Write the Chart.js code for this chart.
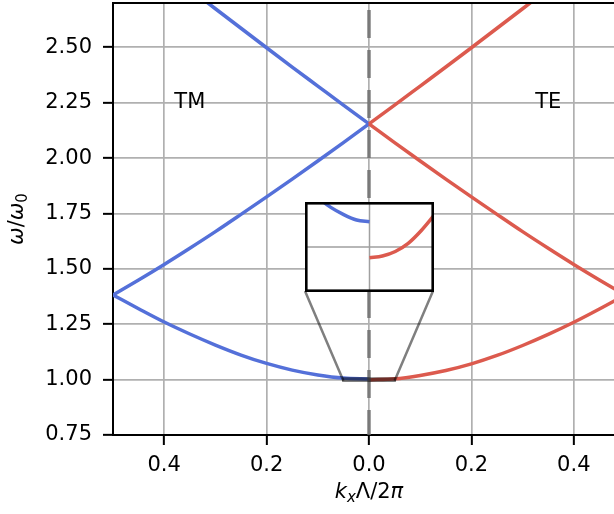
<!DOCTYPE html>
<html>
<head>
<meta charset="utf-8">
<script src="https://cdn.jsdelivr.net/npm/chart.js@4.4.1/dist/chart.umd.min.js"></script>
<style>
  html, body { margin: 0; padding: 0; background: #fff; overflow: hidden; }
  #wrap { position: relative; width: 640px; height: 514px; }
  #bandChart { position: absolute; left: 0; top: 0; }
  #insetChart { position: absolute; background: #fff; }
</style>
</head>
<body>
<div id="wrap">
  <canvas id="bandChart" width="640" height="514"></canvas>
  <canvas id="insetChart"></canvas>
</div>
<script>
// |k_x| Λ/2π samples; TM is plotted on the negative side, TE on the positive side
const K_STEPS = [0, 0.05, 0.10, 0.15, 0.20, 0.25, 0.30, 0.35, 0.40, 0.45, 0.50];
const TM_BAND1 = [1.0028, 1.0068, 1.021, 1.043, 1.073, 1.111, 1.156, 1.206, 1.260, 1.320, 1.382];
const TE_BAND1 = [0.9988, 1.0035, 1.019, 1.041, 1.071, 1.109, 1.154, 1.204, 1.259, 1.319, 1.382];
// second band is the same for both polarisations
const BAND2 = [2.154, 2.070, 1.987, 1.905, 1.825, 1.746, 1.668, 1.593, 1.520, 1.450, 1.382];

const K_STEPS_UPPER = [0, 0.05, 0.10, 0.15, 0.20, 0.25, 0.30, 0.35];
const BAND3 = [2.154, 2.239, 2.325, 2.411, 2.498, 2.586, 2.674, 2.763];

// close-up of the band edge around k = 0
const INSET_K = [0, 0.01, 0.02, 0.03, 0.04, 0.05];
const INSET_TM = [1.0028, 1.0030, 1.0036, 1.0044, 1.0055, 1.0068];
const INSET_TE = [0.9988, 0.9990, 0.9995, 1.0004, 1.0018, 1.0035];

const X_TICKS = [-0.4, -0.2, 0, 0.2, 0.4];
const Y_TICKS = [0.75, 1.00, 1.25, 1.50, 1.75, 2.00, 2.25, 2.50];

const BLUE = '#5470d9';
const RED = '#dc5a4e';
const FONT = '"DejaVu Sans", sans-serif';

// zoomed region and where the close-up sits (data units)
const ZOOM = { kMin: -0.05, kMax: 0.05, wMin: 0.995, wMax: 1.005 };
const INSET_BOX = { kMin: -0.125, kMax: 0.125, wMin: 1.40, wMax: 1.80 };

function toPoints(ks, ws, sign) {
    const pts = ks.map((k, i) => ({ x: sign * k, y: ws[i] }));
    return sign < 0 ? pts.reverse() : pts;
}

function band(ks, ws, sign, color) {
    return {
        data: toPoints(ks, ws, sign),
        borderColor: color,
        borderWidth: 3.5,
        pointRadius: 0,
        cubicInterpolationMode: 'monotone',
        clip: 0
    };
}

// draws a run of text pieces (mixed italic / subscript) centred on x
function drawRich(ctx, parts, x, y) {
    let total = 0;
    parts.forEach(p => { ctx.font = p.font; total += ctx.measureText(p.t).width; });
    let cx = x - total / 2;
    ctx.textAlign = 'left';
    ctx.textBaseline = 'alphabetic';
    parts.forEach(p => {
        ctx.font = p.font;
        ctx.fillText(p.t, cx, y + (p.dy || 0));
        cx += ctx.measureText(p.t).width;
    });
}

const bandDecor = {
    id: 'bandDecor',
    afterDatasetsDraw(chart) {
        const { ctx, chartArea: a, scales: { x, y } } = chart;
        ctx.save();

        // dashed marker at k = 0
        ctx.beginPath();
        ctx.rect(a.left, a.top, a.right - a.left, a.bottom - a.top);
        ctx.clip();
        const x0 = x.getPixelForValue(0);
        ctx.strokeStyle = 'rgba(110,110,110,0.85)';
        ctx.lineWidth = 3.5;
        ctx.setLineDash([28, 12]);
        ctx.lineDashOffset = 33;
        ctx.beginPath();
        ctx.moveTo(x0, a.top);
        ctx.lineTo(x0, a.bottom);
        ctx.stroke();
        ctx.setLineDash([]);

        // zoom indicator and connectors to the close-up
        ctx.strokeStyle = 'rgba(0,0,0,0.5)';
        ctx.lineWidth = 2.5;
        const zl = x.getPixelForValue(ZOOM.kMin), zr = x.getPixelForValue(ZOOM.kMax);
        const zt = y.getPixelForValue(ZOOM.wMax), zb = y.getPixelForValue(ZOOM.wMin);
        ctx.strokeRect(zl, zt, zr - zl, zb - zt);
        const il = x.getPixelForValue(INSET_BOX.kMin), ir = x.getPixelForValue(INSET_BOX.kMax);
        const ib = y.getPixelForValue(INSET_BOX.wMin);
        ctx.beginPath();
        ctx.moveTo(il, ib); ctx.lineTo(zl, zb);
        ctx.moveTo(ir, ib); ctx.lineTo(zr, zb);
        ctx.stroke();

        // polarisation labels
        ctx.fillStyle = '#000';
        ctx.font = '21px ' + FONT;
        ctx.textAlign = 'center';
        ctx.textBaseline = 'middle';
        ctx.fillText('TM', x.getPixelForValue(-0.35), y.getPixelForValue(2.25));
        ctx.fillText('TE', x.getPixelForValue(0.35), y.getPixelForValue(2.25));
        ctx.restore();

        // top spine
        ctx.save();
        ctx.strokeStyle = '#000';
        ctx.lineWidth = 2;
        ctx.beginPath();
        ctx.moveTo(a.left - 1, a.top);
        ctx.lineTo(a.right, a.top);
        ctx.stroke();
        ctx.restore();
    },
    afterDraw(chart) {
        const { ctx, chartArea: a } = chart;
        ctx.save();
        ctx.fillStyle = '#000';
        drawRich(ctx, [
            { t: 'k', font: 'italic 21px ' + FONT },
            { t: 'x', font: 'italic 15px ' + FONT, dy: 4 },
            { t: 'Λ/2', font: '21px ' + FONT },
            { t: 'π', font: 'italic 21px ' + FONT }
        ], (a.left + a.right) / 2, 498);

        ctx.translate(23, (a.top + a.bottom) / 2);
        ctx.rotate(-Math.PI / 2);
        drawRich(ctx, [
            { t: 'ω', font: 'italic 21px ' + FONT },
            { t: '/', font: '21px ' + FONT },
            { t: 'ω', font: 'italic 21px ' + FONT },
            { t: '0', font: '15px ' + FONT, dy: 4 }
        ], 0, 0);
        ctx.restore();
    }
};

const mainChart = new Chart(document.getElementById('bandChart'), {
    type: 'line',
    data: {
        datasets: [
            band(K_STEPS, TE_BAND1, 1, RED),
            band(K_STEPS, BAND2, 1, RED),
            band(K_STEPS_UPPER, BAND3, 1, RED),
            band(K_STEPS, TM_BAND1, -1, BLUE),
            band(K_STEPS, BAND2, -1, BLUE),
            band(K_STEPS_UPPER, BAND3, -1, BLUE)
        ]
    },
    options: {
        responsive: false,
        animation: false,
        layout: { padding: { top: 3, right: 15, left: 0, bottom: 0 } },
        plugins: { legend: { display: false }, tooltip: { enabled: false } },
        scales: {
            x: {
                type: 'linear',
                min: -0.5,
                max: 0.5,
                afterBuildTicks: s => { s.ticks = X_TICKS.map(v => ({ value: v })); },
                afterFit: s => { s.height = 79; s.paddingLeft = 0; s.paddingRight = 0; },
                ticks: {
                    callback: v => Math.abs(v).toFixed(1),
                    font: { family: FONT, size: 21 },
                    color: '#000',
                    padding: 8,
                    maxRotation: 0,
                    autoSkip: false
                },
                grid: { color: '#b0b0b0', lineWidth: 1.7, tickColor: '#000', tickLength: 10, tickWidth: 2 },
                border: { color: '#000', width: 2 }
            },
            y: {
                type: 'linear',
                min: 0.75,
                max: 2.7,
                afterBuildTicks: s => { s.ticks = Y_TICKS.map(v => ({ value: v })); },
                afterFit: s => { s.width = 113; s.paddingTop = 0; s.paddingBottom = 0; },
                ticks: {
                    callback: v => v.toFixed(2),
                    font: { family: FONT, size: 21 },
                    color: '#000',
                    padding: 11,
                    autoSkip: false
                },
                grid: { color: '#b0b0b0', lineWidth: 1.7, tickColor: '#000', tickLength: 10, tickWidth: 2 },
                border: { color: '#000', width: 2 }
            }
        }
    },
    plugins: [bandDecor]
});

// close-up placed over the main axes
const xs = mainChart.scales.x, ys = mainChart.scales.y;
const boxLeft = xs.getPixelForValue(INSET_BOX.kMin);
const boxRight = xs.getPixelForValue(INSET_BOX.kMax);
const boxTop = ys.getPixelForValue(INSET_BOX.wMax);
const boxBottom = ys.getPixelForValue(INSET_BOX.wMin);
const insetCanvas = document.getElementById('insetChart');
insetCanvas.width = Math.round(boxRight - boxLeft) + 1;
insetCanvas.height = Math.round(boxBottom - boxTop) + 1;
insetCanvas.style.left = Math.round(boxLeft) + 'px';
insetCanvas.style.top = Math.round(boxTop) + 'px';

const insetFrame = {
    id: 'insetFrame',
    beforeDatasetsDraw(chart) {
        const { ctx, chartArea: a, scales: { x, y } } = chart;
        ctx.save();
        ctx.strokeStyle = '#a0a0a0';
        ctx.lineWidth = 1.5;
        const gx = x.getPixelForValue(0), gy = y.getPixelForValue(1.0);
        ctx.beginPath();
        ctx.moveTo(gx, a.top); ctx.lineTo(gx, a.bottom);
        ctx.moveTo(a.left, gy); ctx.lineTo(a.right, gy);
        ctx.stroke();
        ctx.restore();
    },
    afterDraw(chart) {
        const { ctx, width, height } = chart;
        ctx.save();
        ctx.strokeStyle = '#000';
        ctx.lineWidth = 2.6;
        ctx.strokeRect(1.3, 1.3, width - 2.6, height - 2.6);
        ctx.restore();
    }
};

new Chart(insetCanvas, {
    type: 'line',
    data: {
        datasets: [
            band(INSET_K, INSET_TE, 1, RED),
            band(INSET_K, INSET_TM, -1, BLUE)
        ]
    },
    options: {
        responsive: false,
        animation: false,
        layout: { padding: 0 },
        plugins: { legend: { display: false }, tooltip: { enabled: false } },
        scales: {
            x: { type: 'linear', min: ZOOM.kMin, max: ZOOM.kMax, display: false },
            y: { type: 'linear', min: ZOOM.wMin, max: ZOOM.wMax, display: false }
        }
    },
    plugins: [insetFrame]
});
</script>
</body>
</html>
